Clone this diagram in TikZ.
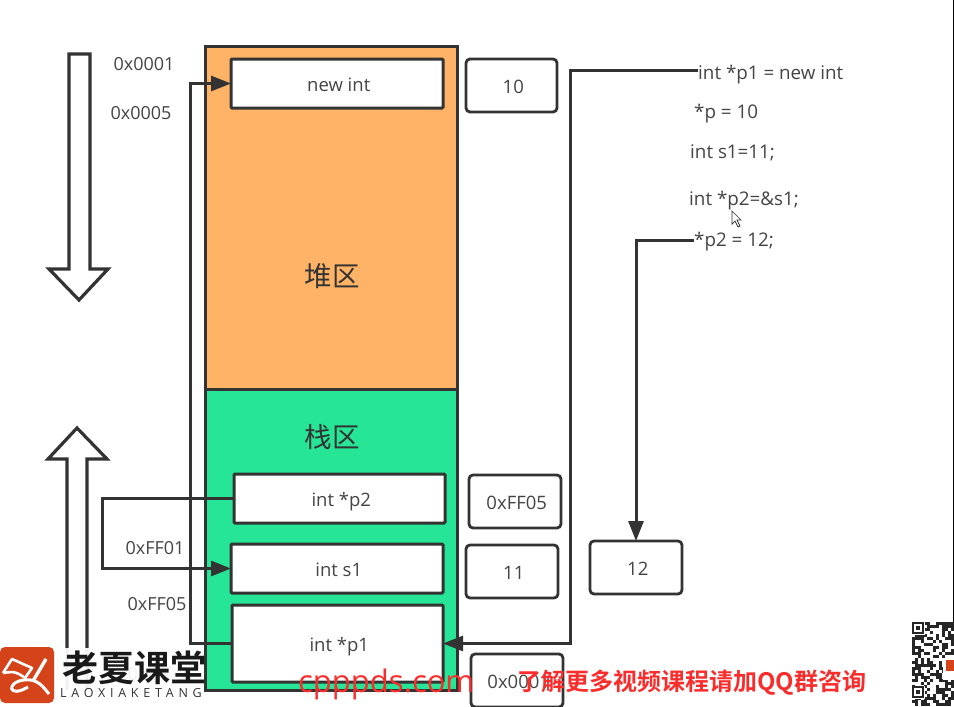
\documentclass[tikz,border=0pt]{standalone}
\usepackage{fontspec}
\setmainfont{Open Sans}
\newfontfamily\cjk{Noto Sans CJK SC}
\newfontfamily\cjkb{Noto Sans CJK SC Bold}
\newfontfamily\spaced[LetterSpace=38]{Open Sans}
\usetikzlibrary{arrows.meta}
\definecolor{ln}{HTML}{333333}
\definecolor{txt}{HTML}{444444}
\definecolor{heap}{HTML}{FFB366}
\definecolor{stackc}{HTML}{26E596}
\definecolor{wm}{HTML}{FA2D2D}
\definecolor{logo}{HTML}{D5431A}
\newcommand{\dn}[1]{\hspace*{3.5pt}\raisebox{-8pt}[0pt][0pt]{#1}}
\tikzset{
 x=1pt,y=-1pt,
 box/.style={draw=ln,line width=3pt,fill=white,rounded corners=1pt,anchor=north west,inner sep=0pt,outer sep=0pt,font=\fontsize{18.5}{20}\selectfont,text=txt},
 val/.style={box,rounded corners=4pt,line width=2.8pt},
 lab/.style={inner sep=0pt,font=\fontsize{18}{20}\selectfont,text=txt},
 code/.style={inner sep=0pt,anchor=west,font=\fontsize{18.8}{20}\selectfont,text=txt},
 area/.style={draw=ln,line width=3pt},
 conn/.style={draw=ln,line width=3pt},
 tip/.style={-{Triangle[length=20pt,width=15pt]}},
 hollow/.style={draw=ln,line width=3.2pt,fill=white,line join=miter},
 wmk/.style={inner sep=0pt,text=wm},
}
\begin{document}
\begin{tikzpicture}
\useasboundingbox (0,0) rectangle (954,707);
\fill[white] (0,0) rectangle (954,707);
\draw[black,line width=1pt] (953,0) -- (953,707);
% areas
\path[area,fill=heap] (205,46) rectangle (457,389);
\path[area,fill=stackc] (205,389) rectangle (457,690);
\node[inner sep=0pt,font=\cjk\fontsize{27.5}{30}\selectfont,text=ln] (heapl) at (332,276) {堆区};
\node[inner sep=0pt,font=\cjk\fontsize{27.5}{30}\selectfont,text=ln] (stackl) at (332,437) {栈区};
% hollow arrows
\path[hollow] (69,54) -- (90,54) -- (90,269) -- (108,269) -- (79,300) -- (49,269) -- (69,269) -- cycle;
\path[hollow] (67,690) -- (67,459) -- (48,459) -- (77,428) -- (107,459) -- (87,459) -- (87,690);
% boxes
\node[box,minimum width=212pt,minimum height=49pt] (newint) at (231,59) {\dn{new int}};
\node[box,minimum width=211pt,minimum height=49pt] (p2) at (234,474) {\dn{int *p2}};
\node[box,minimum width=212pt,minimum height=49pt] (s1) at (231,544) {\dn{int s1}};
\node[box,minimum width=211pt,minimum height=77pt] (p1) at (232,605) {\dn{int *p1}};
\node[val,minimum width=91pt,minimum height=53pt] (v10) at (466,59) {\dn{10}};
\node[val,minimum width=92pt,minimum height=53pt] (vff) at (469,475) {\dn{0xFF05}};
\node[val,minimum width=92pt,minimum height=53pt] (v11) at (466,545) {\dn{11}};
\node[val,minimum width=92pt,minimum height=53pt] (v12) at (590,541) {\dn{12}};
\node[val,minimum width=92pt,minimum height=53pt] (v0) at (471,654) {\dn{0x0001}};
% labels
\node[lab] (a1) at (144,64) {0x0001};
\node[lab] (a2) at (141,113) {0x0005};
\node[lab] (a3) at (155,548) {0xFF01};
\node[lab] (a4) at (157,604) {0xFF05};
\node[lab] (a5) at (157,674) {0xFF09};
% code
\node[code] (c1) at (698,75) {int *p1 = new int};
\node[code] (c2) at (694,114) {*p = 10};
\node[code] (c3) at (690,153) {int s1=11;};
\node[code] (c4) at (689,201) {int *p2=\&s1;};
\node[code] (c5) at (694,242) {*p2 = 12;};
\coordinate (tail1) at (698,70);
\coordinate (tail2) at (694,240);
\coordinate (bendA) at (190,300);
\coordinate (bendB) at (102,530);
\coordinate (bendC) at (570,300);
% connectors
\draw[conn,tip] (p1.west) -| (bendA) |- (newint.west);
\draw[conn,tip] (p2.west) -| (bendB) |- (s1.west);
\draw[conn,tip] (tail1) -| (bendC) |- (p1.east);
\draw[conn,tip] (tail2) -| (v12.north);
% cursor
\draw[ln,fill=white,line width=.7pt] (732,211) -- (732,224) -- (735,221) -- (738,227) -- (740,226) -- (737,220) -- (741,220) -- cycle;
% logo
\fill[white,opacity=.93] (0,648) rectangle (204,707);
\fill[logo,rounded corners=5pt] (0,647) rectangle (54,703);
\draw[white,line width=2.6pt,line join=round] (3,673) -- (12,659) -- (32,668) -- (25,678) .. controls (15,670) and (10,672) .. (3,673);
\draw[white,line width=3pt] (28,687) .. controls (8,699) and (6,682) .. (24,680) .. controls (38,678) and (44,688) .. (49,694);
\draw[white,line width=3.4pt] (46,659) -- (33,681);
\node[inner sep=0pt,anchor=west,font=\cjkb\fontsize{36}{38}\selectfont,text=black!90] (brand) at (62,668) {老夏课堂};
\node[inner sep=0pt,anchor=west,font=\spaced\fontsize{12.5}{14}\selectfont,text=ln] (brand2) at (60,693) {LAOXIAKETANG};
% watermark
\node[wmk,anchor=west,font=\fontsize{31}{34}\selectfont] (wm1) at (298,684) {cpppds.com};
\node[wmk,anchor=west,font=\cjkb\fontsize{24}{28}\selectfont] (wm2) at (517,683) {了解更多视频课程请加QQ群咨询};
% QR
\fill[white] (912,622) rectangle (954,707);
\pgfmathsetseed{17}
\foreach \i in {0,...,13}{
 \foreach \j in {0,...,27}{
  \pgfmathparse{rnd<0.55?1:0}
  \ifnum\pgfmathresult=1\relax
   \fill[black!85] ({912+3*\i},{622+3*\j}) rectangle +(3,3);
  \fi
 }
}
\foreach \y in {622,686}{
 \fill[white] (912,\y) rectangle +(13,13);
 \draw[black!85,line width=2pt] (913,\y+1) rectangle +(10,10);
 \fill[black!85] (916,\y+4) rectangle +(4,4);
}
\fill[white] (943,658) rectangle (954,680);
\fill[logo] (946,660) rectangle (954,671);
\end{tikzpicture}
\end{document}
